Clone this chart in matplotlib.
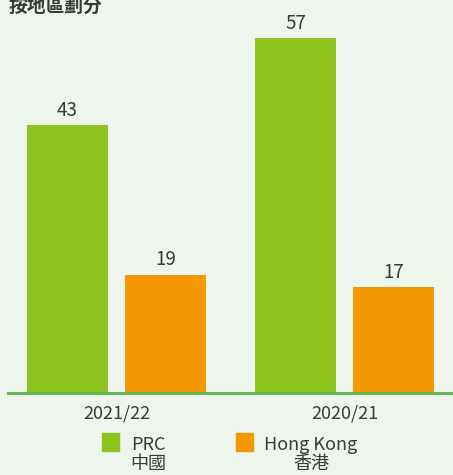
import matplotlib
matplotlib.use('Agg')
import matplotlib.pyplot as plt
from matplotlib.patches import Rectangle
import numpy as np

plt.rcParams['font.family'] = ['Noto Sans CJK TC', 'DejaVu Sans']

years = ['2021/22', '2020/21']
prc = [43, 57]
hong_kong = [19, 17]
series_names = ['PRC\n中國', 'Hong Kong\n香港']
title = '按地區劃分'

bg = '#eef5ec'
green = '#8dc21f'
orange = '#f39800'
text_col = '#3a3a3a'

W, H = 453, 475
fig = plt.figure(figsize=(W / 100, H / 100), dpi=100, facecolor=bg)

# axes: left at 8px, baseline at 393px from top, top at figure top
ax = fig.add_axes([8 / W, 82 / H, 445 / W, 393 / H])
ax.set_facecolor(bg)

x = np.arange(len(years))
unit = 228.0  # px between group centres
width = 81 / unit
off = 49 / unit

b1 = ax.bar(x - off, prc, width, color=green)
b2 = ax.bar(x + off, hong_kong, width, color=orange)

for bars in (b1, b2):
    for rect in bars:
        h = rect.get_height()
        ax.annotate(str(h), (rect.get_x() + rect.get_width() / 2, h),
                    xytext=(0, 3), textcoords='offset points',
                    ha='center', va='bottom', fontsize=13.5, color=text_col)

ax.set_xlim(-108.5 / unit, 336.5 / unit)
ax.set_ylim(0, 393 / 6.23)

for s in ['top', 'right', 'left']:
    ax.spines[s].set_visible(False)
ax.spines['bottom'].set_color('#5db54a')
ax.spines['bottom'].set_linewidth(2)
ax.set_yticks([])
ax.set_xticks(x)
ax.set_xticklabels(years, fontsize=13, color=text_col)
ax.tick_params(axis='x', length=0, pad=8)

# title sits against the top edge like the original
fig.text(9 / W, 1 - 6 / H, title, fontsize=13.5, fontweight='bold',
         color=text_col, ha='left', va='center')

# legend drawn by hand
legend_items = [(green, 102, 148), (orange, 236, 311)]
for (col, sx, tx), name in zip(legend_items, series_names):
    fig.patches.append(Rectangle((sx / W, 1 - 451 / H), 17 / W, 18 / H,
                                 transform=fig.transFigure, color=col))
    fig.text(tx / W, 1 - 436 / H, name, fontsize=13, color=text_col,
             ha='center', va='top', multialignment='center', linespacing=1.05)

fig.savefig('out.png', dpi=100, facecolor=bg)
